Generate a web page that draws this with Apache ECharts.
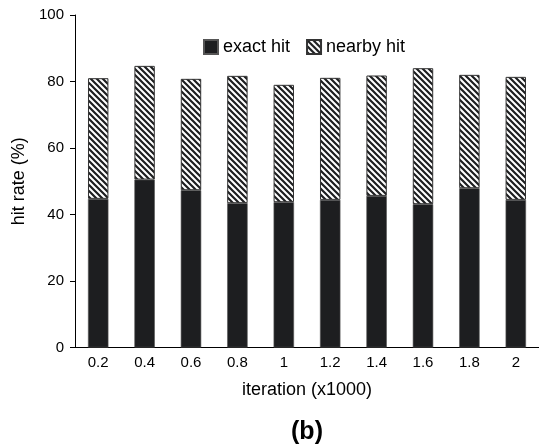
<!DOCTYPE html>
<html>
<head>
<meta charset="utf-8">
<script src="https://cdn.jsdelivr.net/npm/echarts@6/dist/echarts.min.js"></script>
<style>html,body{margin:0;padding:0;background:#fff;}#c{width:539px;height:448px;}</style>
</head>
<body>
<div id="c"></div>
<script>
const categories = ['0.2','0.4','0.6','0.8','1','1.2','1.4','1.6','1.8','2'];
const totalHit = [81.0, 84.7, 80.8, 81.7, 79.0, 81.1, 81.8, 84.0, 82.0, 81.4];
const exactHit = [44.7, 50.5, 47.3, 43.4, 43.7, 44.4, 45.6, 43.1, 47.9, 44.4];
const nearbyHit = totalHit.map((t, i) => +(t - exactHit[i]).toFixed(1));
const yTicks = [0, 20, 40, 60, 80, 100];

function hatch() {
  const s = 6;
  const cv = document.createElement('canvas');
  cv.width = s; cv.height = s;
  const g = cv.getContext('2d');
  g.fillStyle = '#fff'; g.fillRect(0, 0, s, s);
  g.strokeStyle = '#1d1e20'; g.lineWidth = 2.2;
  g.beginPath();
  g.moveTo(-1, -1); g.lineTo(s + 1, s + 1);
  g.moveTo(-1 - s, -1); g.lineTo(1, s + 1);
  g.moveTo(s - 1, -1); g.lineTo(2 * s + 1, s + 1);
  g.stroke();
  return { image: cv, repeat: 'repeat' };
}

const font = 'Liberation Sans, Arial, sans-serif';
const chart = echarts.init(document.getElementById('c'), null, { renderer: 'canvas' });
chart.setOption({
  animation: false,
  backgroundColor: '#fff',
  grid: { left: 75, right: 0, top: 15, bottom: 100.5, containLabel: false },
  legend: {
    left: 198, top: 33,
    itemWidth: 14, itemHeight: 14, itemGap: 16, itemTextGap: 6,
    icon: 'rect',
    textStyle: { fontFamily: font, fontSize: 18, color: '#000' },
    data: ['exact hit', 'nearby hit']
  },
  xAxis: {
    type: 'category', data: categories,
    axisLine: { lineStyle: { color: '#000', width: 1 } },
    axisTick: { inside: true, length: 5, alignWithLabel: false, lineStyle: { color: '#000' } },
    axisLabel: { fontFamily: font, fontSize: 15, color: '#000', margin: 8 },
    name: 'iteration (x1000)', nameLocation: 'middle', nameGap: 34,
    nameTextStyle: { fontFamily: font, fontSize: 18, color: '#000' }
  },
  yAxis: {
    type: 'value', min: yTicks[0], max: yTicks[yTicks.length - 1], interval: 20,
    splitLine: { show: false },
    axisLine: { show: true, lineStyle: { color: '#000', width: 1 } },
    axisTick: { show: true, inside: false, length: 5, lineStyle: { color: '#000' } },
    axisLabel: { fontFamily: font, fontSize: 15, color: '#000', margin: 11 },
    name: 'hit rate (%)', nameLocation: 'middle', nameGap: 46, nameRotate: 90,
    nameTextStyle: { fontFamily: font, fontSize: 18, color: '#000' }
  },
  graphic: [{
    type: 'text', x: 307, y: 432,
    style: { text: '(b)', font: 'bold 25px ' + font, fill: '#000', textAlign: 'center', textVerticalAlign: 'middle' }
  }],
  series: [
    {
      name: 'exact hit', type: 'bar', stack: 'h', barWidth: '44%',
      data: exactHit,
      itemStyle: { color: '#1d1e20', borderColor: '#555', borderWidth: 0.6 }
    },
    {
      name: 'nearby hit', type: 'bar', stack: 'h', barWidth: '44%',
      data: nearbyHit,
      itemStyle: { color: hatch(), borderColor: '#333', borderWidth: 1 }
    }
  ]
});
</script>
</body>
</html>
